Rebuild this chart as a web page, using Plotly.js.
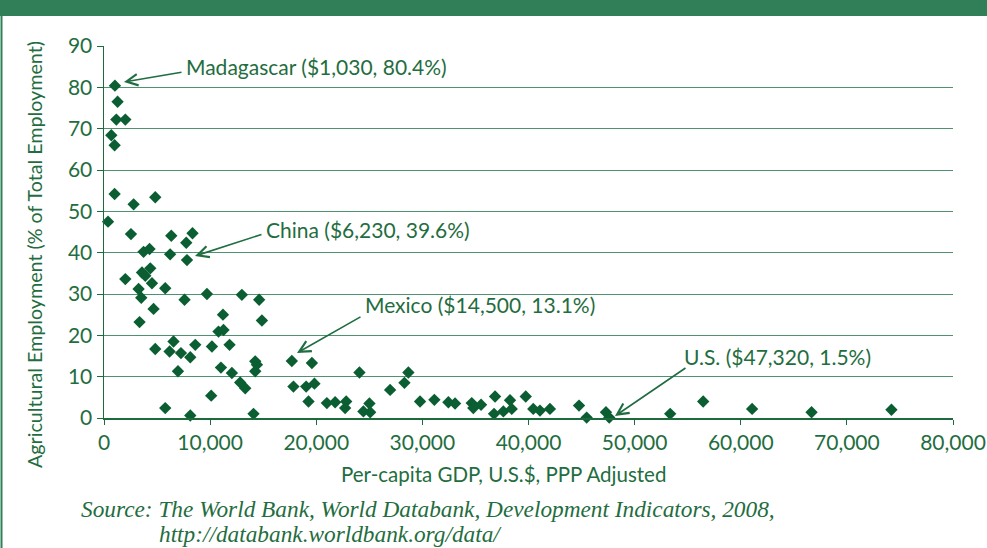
<!DOCTYPE html>
<html><head><meta charset="utf-8">
<script src="https://cdn.plot.ly/plotly-3.0.1.min.js"></script>
<style>html,body{margin:0;padding:0;background:#fff}#chart{width:987px;height:548px}</style>
</head><body><div id="chart"></div>
<script>
// Per-capita GDP (US$, PPP) and agricultural employment (% of total)
const gdp = [1030,1280,1160,2010,690,1000,1000,2790,4830,380,2540,6340,8340,7750,3730,4290,6230,7820,
  2010,3580,3890,4360,4520,3260,3510,5770,4670,3350,7590,9700,12990,14620,14880,11210,10790,11260,
  11830,10170,8600,6550,4830,6180,7250,8130,6970,11020,12050,12830,13310,14250,14410,14250,17700,17850,
  10100,5770,8130,14090,19590,19050,19830,19270,21000,21780,22820,22720,24070,25010,24440,25080,
  26960,28310,28680,29780,31130,32450,33080,34650,34800,35530,36850,36750,37630,38260,38420,39740,
  40450,41080,42020,44760,45480,47300,47610,53350,56460,61070,66670,74200];
const agri = [80.4,76.5,72.2,72.2,68.4,66.0,54.2,51.7,53.4,47.5,44.5,44.1,44.7,42.4,40.2,40.9,39.6,38.2,
  33.6,35.2,34.4,36.2,32.6,31.2,29.1,31.4,26.4,23.2,28.6,30.0,29.8,28.6,23.6,25.0,20.9,21.3,
  17.7,17.3,17.7,18.5,16.7,16.1,15.7,14.7,11.3,12.2,10.9,8.6,7.2,13.7,12.9,11.3,13.8,7.6,
  5.4,2.4,0.6,1.0,13.3,7.6,8.3,4.0,3.6,3.8,4.0,2.4,11.0,3.5,1.6,1.4,
  6.8,8.5,11.0,4.0,4.4,3.8,3.5,3.6,2.4,3.2,5.2,1.0,1.6,4.3,2.2,5.2,
  2.2,1.8,2.2,3.0,0.1,1.4,0.1,1.0,4.0,2.2,1.4,2.0];

const xTickVals = [0,10000,20000,30000,40000,50000,60000,70000,80000];
const xTickText = ["0","10,000","20,000","30,000","40,000","50,000","60,000","70,000","80,000"];
const yTickVals = [0,10,20,30,40,50,60,70,80,90];

const calloutText = ["Madagascar ($1,030, 80.4%)","China ($6,230, 39.6%)","Mexico ($14,500, 13.1%)","U.S. ($47,320, 1.5%)"];
const titleX = "Per-capita GDP, U.S.$, PPP Adjusted";
const titleY = "Agricultural Employment (% of Total Employment)";
const sourceLines = ["Source: The World Bank, World Databank, Development Indicators, 2008,","http://databank.worldbank.org/data/"];

const W = 987, H = 548, M = {l:104, r:34, t:46, b:130};
const PW = W - M.l - M.r, PH = H - M.t - M.b;
const px2x = px => (px - M.l) / PW * 80000;
const px2y = py => (H - M.b - py) / PH * 90;
const ppx = px => (px - M.l) / PW;
const ppy = py => (H - M.b - py) / PH;

const green = '#1f6d40';
const sans = 'Lato, "Open Sans", sans-serif';
const serif = '"Liberation Serif", serif';

// callout geometry in pixels: arrow head, arrow tail, text left/centre
const callouts = [
  {head:[124,82], tail:[183,72], text:[184,67]},
  {head:[195,256], tail:[263,234], text:[264,229]},
  {head:[297,353], tail:[362,316], text:[363,304]},
  {head:[615,416], tail:[687,367], text:[682,356]}
];

const annotations = [];
callouts.forEach((c,i) => {
  annotations.push({x:px2x(c.head[0]), y:px2y(c.head[1]), xref:'x', yref:'y', text:'', showarrow:true,
    ax:c.tail[0]-c.head[0], ay:c.tail[1]-c.head[1], arrowhead:5, arrowsize:1.4, arrowwidth:1.6,
    arrowcolor:green, standoff:0, startstandoff:0});
  annotations.push({x:ppx(c.text[0]), y:ppy(c.text[1]), xref:'paper', yref:'paper', text:calloutText[i],
    showarrow:false, xanchor:'left', yanchor:'middle', font:{family:sans, size:21, color:green}});
});
// axis titles
annotations.push({x:ppx(503), y:ppy(474), xref:'paper', yref:'paper', text:titleX, showarrow:false,
  xanchor:'center', yanchor:'middle', font:{family:sans, size:20.5, color:green}});
annotations.push({x:ppx(35), y:ppy(255), xref:'paper', yref:'paper', text:titleY, showarrow:false,
  textangle:-90, xanchor:'center', yanchor:'middle', font:{family:sans, size:19.7, color:green}});
// source
annotations.push({x:ppx(79), y:ppy(509), xref:'paper', yref:'paper', text:'<i>'+sourceLines[0]+'</i>',
  showarrow:false, xanchor:'left', yanchor:'middle', font:{family:serif, size:23.3, color:green}});
annotations.push({x:ppx(157), y:ppy(534), xref:'paper', yref:'paper', text:'<i>'+sourceLines[1]+'</i>',
  showarrow:false, xanchor:'left', yanchor:'middle', font:{family:serif, size:23.3, color:green}});

const shapes = [
  {type:'rect', xref:'paper', yref:'paper', x0:ppx(-5), x1:ppx(W+5), y0:ppy(16), y1:ppy(-5),
   fillcolor:'#307f58', line:{width:0}, layer:'below'},
  {type:'line', xref:'paper', yref:'paper', x0:ppx(1.5), x1:ppx(1.5), y0:ppy(16), y1:ppy(H+5),
   line:{color:'#2f7f57', width:2}}
];

const trace = {x:gdp, y:agri, type:'scatter', mode:'markers', cliponaxis:false,
  marker:{symbol:'diamond', size:9.5, color:'#0b5e32'}, hoverinfo:'x+y'};

const layout = {
  width:W, height:H, margin:M, paper_bgcolor:'#ffffff', plot_bgcolor:'#ffffff', showlegend:false,
  font:{family:sans, color:green},
  xaxis:{range:[0,80000], tickvals:xTickVals, ticktext:xTickText, showgrid:false, zeroline:false,
    showline:true, linecolor:'#1d6b3d', linewidth:1.5, ticks:'outside', ticklen:5, tickcolor:'#1d6b3d',
    tickfont:{family:sans, size:21, color:green}},
  yaxis:{range:[0,90], tickvals:yTickVals, showgrid:true, gridcolor:'#4f9270', gridwidth:1, zeroline:false,
    showline:true, linecolor:'#1d6b3d', linewidth:1.5, ticks:'outside', ticklen:6, tickcolor:'#1d6b3d',
    tickfont:{family:sans, size:21, color:green}},
  annotations:annotations, shapes:shapes
};

Plotly.newPlot('chart', [trace], layout, {displayModeBar:false, staticPlot:true});
</script></body></html>
